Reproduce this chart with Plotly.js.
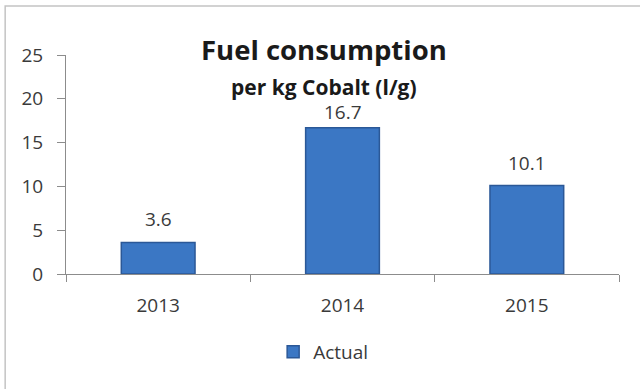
<!DOCTYPE html>
<html>
<head>
<meta charset="utf-8">
<script src="https://cdn.plot.ly/plotly-3.0.1.min.js"></script>
<style>
  html, body { margin: 0; padding: 0; background: #ffffff; }
  #chart { width: 640px; height: 389px; }
</style>
</head>
<body>
<div id="chart"></div>
<script>
// Fuel consumption per kg cobalt, litres per gram
const years = ['2013', '2014', '2015'];
const actual = [3.6, 16.7, 10.1];
const yTicks = [0, 5, 10, 15, 20, 25];
const seriesName = 'Actual';

// vertical gap (px) between each bar top and its value label;
// the middle one sits lower to stay clear of the subtitle
const labelGap = [8, 1, 8];

const textColor = '#3a3a3a';
const fontFamily = '"Open Sans", Lato, sans-serif';

const trace = {
  type: 'bar',
  x: years,
  y: actual,
  name: seriesName,
  marker: {
    color: '#3b77c4',
    line: { color: '#2b5897', width: 1.5 }
  },
  hoverinfo: 'x+y',
  cliponaxis: false
};

// value labels above each bar (category axes position annotations by index)
const valueLabels = years.map((yr, i) => ({
  x: i,
  y: actual[i],
  xref: 'x',
  yref: 'y',
  text: actual[i].toFixed(1),
  showarrow: false,
  yanchor: 'bottom',
  yshift: labelGap[i],
  font: { family: fontFamily, size: 19, color: textColor }
}));

const titleLabels = [
  {
    text: '<b>Fuel consumption</b>',
    xref: 'paper', yref: 'paper',
    x: 0.4665, y: 1.025,
    xanchor: 'center', yanchor: 'middle',
    showarrow: false,
    font: { family: fontFamily, size: 27.5, color: '#1a1a1a' }
  },
  {
    text: '<b>per kg Cobalt (l/g)</b>',
    xref: 'paper', yref: 'paper',
    x: 0.4665, y: 0.855,
    xanchor: 'center', yanchor: 'middle',
    showarrow: false,
    font: { family: fontFamily, size: 21, color: '#1a1a1a' }
  }
];

const layout = {
  width: 640,
  height: 389,
  margin: { l: 66, r: 21, t: 55, b: 115 },
  paper_bgcolor: '#ffffff',
  plot_bgcolor: '#ffffff',
  font: { family: fontFamily, size: 19, color: textColor },
  bargap: 0.6,
  showlegend: true,
  legend: {
    orientation: 'h',
    x: 0.465, xanchor: 'center',
    y: -0.356, yanchor: 'middle',
    font: { family: fontFamily, size: 19, color: textColor },
    itemwidth: 30
  },
  xaxis: {
    type: 'category',
    range: [-0.5, years.length - 0.5],
    showline: true,
    linecolor: '#8c8c8c',
    linewidth: 1,
    ticks: 'outside',
    tickson: 'boundaries',
    ticklen: 7,
    tickcolor: '#8c8c8c',
    ticklabelstandoff: 14,
    tickangle: 0,
    showgrid: false,
    zeroline: false,
    fixedrange: true
  },
  yaxis: {
    range: [0, 25],
    tickvals: yTicks,
    showline: true,
    linecolor: '#8c8c8c',
    linewidth: 1,
    ticks: 'outside',
    ticklen: 8,
    tickcolor: '#8c8c8c',
    ticklabelstandoff: 10,
    showgrid: false,
    zeroline: false,
    fixedrange: true
  },
  annotations: titleLabels.concat(valueLabels),
  shapes: [
    {
      // chart frame, running off the right and bottom edges
      type: 'rect',
      xref: 'paper', yref: 'paper',
      x0: -0.110, x1: 1.3,
      y0: 1.224, y1: -0.8,
      line: { color: '#c4c4c4', width: 1.5 },
      layer: 'below'
    }
  ]
};

Plotly.newPlot('chart', [trace], layout, { displayModeBar: false, staticPlot: true });
</script>
</body>
</html>
